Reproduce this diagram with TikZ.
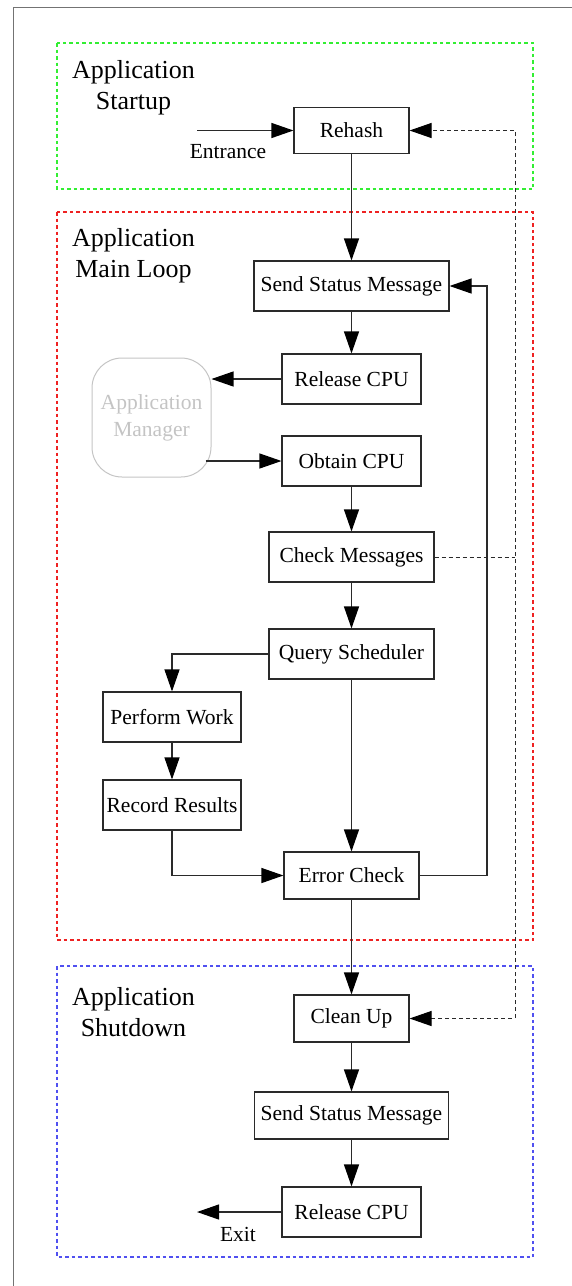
\documentclass[tikz,border=0pt]{standalone}
\usepackage{fontspec}
\setmainfont{Liberation Serif}
\usetikzlibrary{arrows.meta}
\definecolor{boxline}{HTML}{2A2A2A}
\definecolor{grpgreen}{HTML}{33EE33}
\definecolor{grpred}{HTML}{EE2222}
\definecolor{grpblue}{HTML}{5050F0}
\definecolor{mgrgray}{HTML}{C4C4C4}
\tikzset{
  tip/.tip={Triangle[length=22pt,width=15pt,color=black]},
  stepbox/.style={draw=boxline, line width=1.1pt, inner sep=0pt, font=\fontsize{21.5}{24}\selectfont},
  grp/.style={line width=1.1pt, dash pattern=on 3.5pt off 3pt},
  grplabel/.style={align=center, inner sep=0pt, font=\fontsize{26}{31}\selectfont},
  lbl/.style={inner sep=0pt, font=\fontsize{21.5}{24}\selectfont},
  flow/.style={draw=boxline, line width=1.1pt, -tip},
  msg/.style={draw=boxline, line width=1pt, dash pattern=on 4pt off 3pt},
}
\begin{document}
\begin{tikzpicture}[x=1pt,y=-1pt]
\useasboundingbox (0,0) rectangle (571,1286);
% outer frame
\draw[color=gray!90!black, line width=1.5pt] (13.5,1290) -- (13.5,7.5) -- (575,7.5);
% groups
\draw[grp, draw=grpgreen] (57,43) rectangle (533,189);
\draw[grp, draw=grpred] (57,212) rectangle (533,940);
\draw[grp, draw=grpblue] (57,966) rectangle (533,1257);
\node[grplabel] (gstart) at (133.5,88) {Application\\Startup};
\node[grplabel] (gmain) at (133.5,256) {Application\\Main Loop};
\node[grplabel] (gshut) at (133.5,1012) {Application\\Shutdown};
% nodes
\node[stepbox, minimum width=115pt, minimum height=46pt] (rehash) at (351.5,130.5) {Rehash};
\node[stepbox, minimum width=195pt, minimum height=50pt] (ssm1) at (351.5,286) {Send Status Message};
\node[stepbox, minimum width=139pt, minimum height=50pt] (rel1) at (351.5,379) {Release CPU};
\node[stepbox, minimum width=139pt, minimum height=50pt] (obt) at (351.5,461) {Obtain CPU};
\node[draw=mgrgray, line width=1pt, rounded corners=30pt, minimum width=119pt, minimum height=119pt, inner sep=0pt, align=center, text=mgrgray, font=\fontsize{21.5}{27}\selectfont] (appman) at (151.5,417.5) {Application\\Manager};
\node[stepbox, minimum width=165pt, minimum height=50pt] (chk) at (351.5,557) {Check Messages};
\node[stepbox, minimum width=165pt, minimum height=50pt] (qs) at (351.5,654) {Query Scheduler};
\node[stepbox, minimum width=138pt, minimum height=50pt] (pw) at (172,717) {Perform Work};
\node[stepbox, minimum width=138pt, minimum height=50pt] (rr) at (172,805) {Record Results};
\node[stepbox, minimum width=135pt, minimum height=47pt] (ec) at (351.5,875.5) {Error Check};
\node[stepbox, minimum width=115pt, minimum height=47pt] (cu) at (351.5,1018.5) {Clean Up};
\node[stepbox, minimum width=194pt, minimum height=47pt] (ssm2) at (351.5,1115.5) {Send Status Message};
\node[stepbox, minimum width=139pt, minimum height=50pt] (rel2) at (351.5,1212) {Release CPU};
% helper coordinates
\coordinate (ent) at (197,130.5);
\coordinate (exitpt) at (197,1212);
\coordinate (loopx) at (487,0);
\coordinate (dashx) at (515,0);
% labels
\node[lbl] (entl) at (228,152) {Entrance};
\node[lbl] (exitl) at (238,1234) {Exit};
% connectors
\draw[flow] (ent) -- (rehash.west);
\draw[flow] (rehash.south) -- (ssm1.north);
\draw[flow] (ssm1.south) -- (rel1.north);
\draw[flow] (rel1.west) -- (rel1.west -| appman.east);
\draw[flow] ([xshift=-6pt]obt.west -| appman.east) -- (obt.west);
\draw[flow] (obt.south) -- (chk.north);
\draw[flow] (chk.south) -- (qs.north);
\draw[flow] (qs.west) -| (pw.north);
\draw[flow] (pw.south) -- (rr.north);
\draw[flow] (rr.south) |- (ec.west);
\draw[flow] (qs.south) -- (ec.north);
\draw[flow] (ec.east) -- (ec.east -| loopx) -- (ssm1.east -| loopx) -- (ssm1.east);
\draw[flow] (ec.south) -- (cu.north);
\draw[flow] (cu.south) -- (ssm2.north);
\draw[flow] (ssm2.south) -- (rel2.north);
\draw[flow] (rel2.west) -- (exitpt);
% dashed message paths
\draw[msg, tip-tip] (cu.east) -- (cu.east -| dashx) -- (rehash.east -| dashx) -- (rehash.east);
\draw[msg] (chk.east) -- (chk.east -| dashx);
\end{tikzpicture}
\end{document}
